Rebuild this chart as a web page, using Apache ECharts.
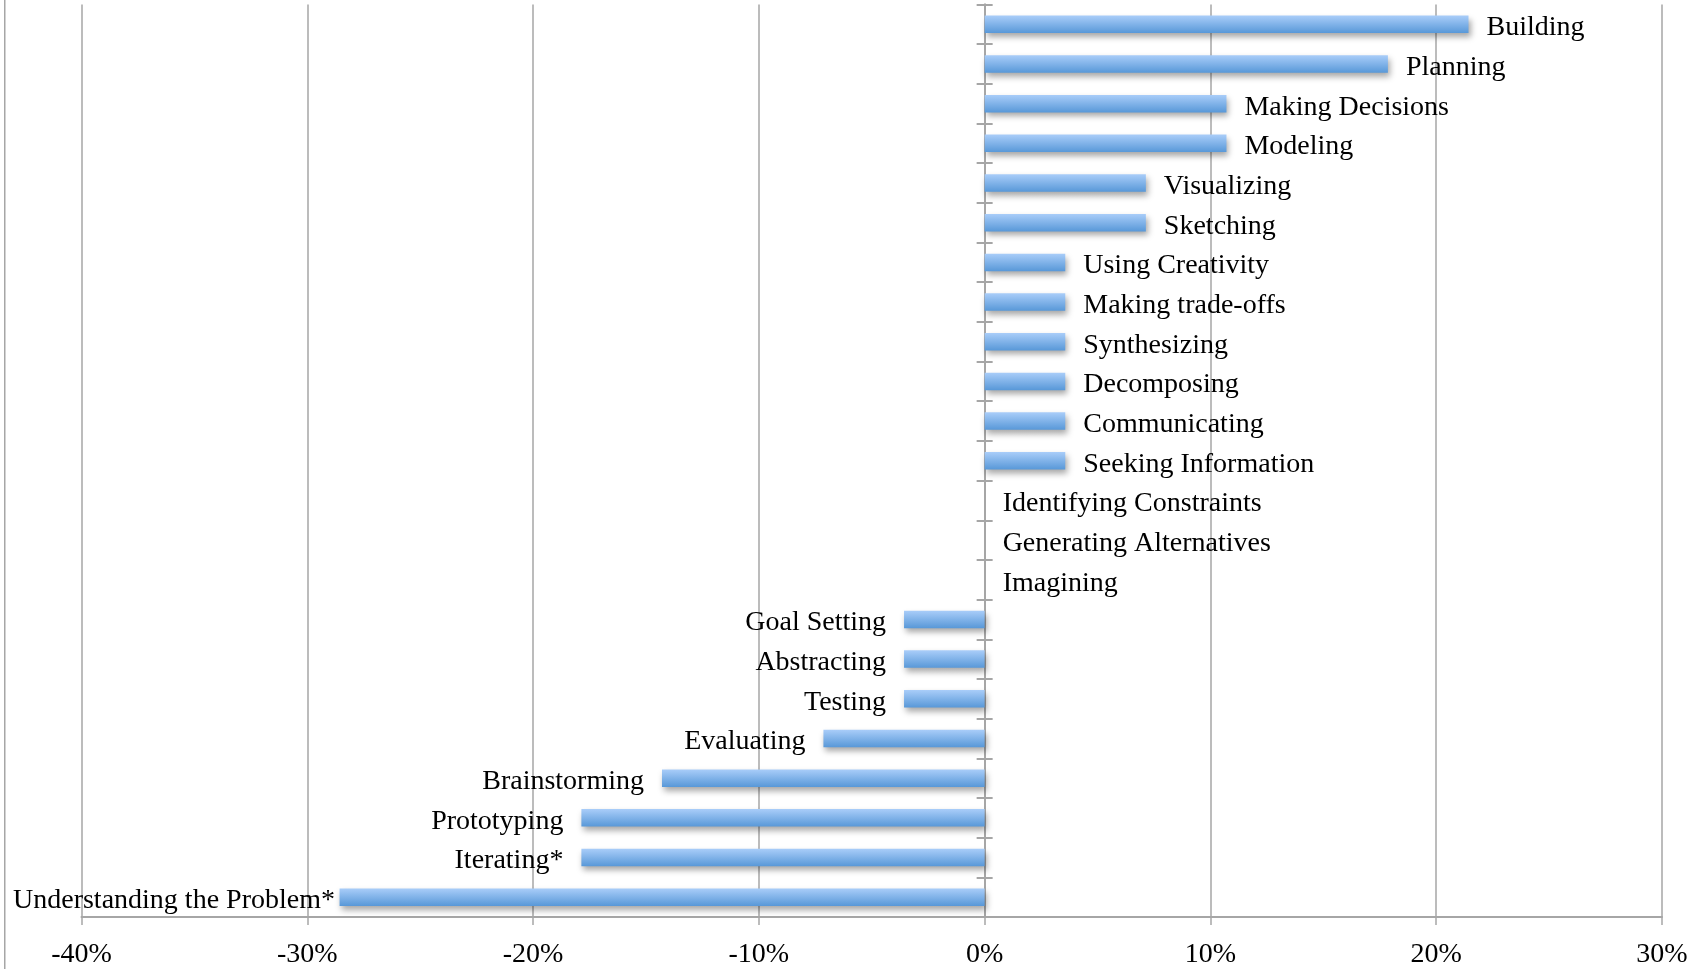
<!DOCTYPE html>
<html>
<head>
<meta charset="utf-8">
<script src="https://cdn.jsdelivr.net/npm/echarts@6/dist/echarts.min.js"></script>
<style>
html,body{margin:0;padding:0;background:#fff;}
#chart{width:1703px;height:969px;}
</style>
</head>
<body>
<div id="chart"></div>
<script>
// Categories listed top to bottom
var categories = [
  'Building','Planning','Making Decisions','Modeling','Visualizing','Sketching',
  'Using Creativity','Making trade-offs','Synthesizing','Decomposing','Communicating',
  'Seeking Information','Identifying Constraints','Generating Alternatives','Imagining',
  'Goal Setting','Abstracting','Testing','Evaluating','Brainstorming','Prototyping',
  'Iterating*','Understanding the Problem*'
];
// Change in share (fraction)
var values = [
  0.2143, 0.1786, 0.1071, 0.1071, 0.0714, 0.0714,
  0.0357, 0.0357, 0.0357, 0.0357, 0.0357,
  0.0357, 0, 0, 0,
  -0.0357, -0.0357, -0.0357, -0.0714, -0.1429, -0.1786,
  -0.1786, -0.2857
];
var xTicks = [-0.4, -0.3, -0.2, -0.1, 0, 0.1, 0.2, 0.3];

var FONT = '"Liberation Serif", "Times New Roman", serif';
var chart = echarts.init(document.getElementById('chart'));

var data = values.map(function (v) {
  return { value: v, label: { position: v < 0 ? 'left' : 'right' } };
});

var LEFT_LIMIT = 13;
var LABEL_DY = 3.5;

var option = {
  animation: false,
  backgroundColor: '#ffffff',
  grid: { left: 81.5, right: 41, top: 4.5, bottom: 52, containLabel: false },
  xAxis: [{
    type: 'value',
    min: xTicks[0],
    max: xTicks[xTicks.length - 1],
    interval: 0.1,
    position: 'bottom',
    axisLine: { show: true, onZero: false, lineStyle: { color: '#a6a6a6', width: 2 } },
    axisTick: { show: true, length: 8, lineStyle: { color: '#a6a6a6', width: 1.5 } },
    splitLine: { show: true, lineStyle: { color: '#a6a6a6', width: 1.5 } },
    axisLabel: {
      margin: 24,
      color: '#000',
      fontFamily: FONT,
      fontSize: 28,
      formatter: function (v) { return Math.round(v * 100) + '%'; }
    }
  }, {
    type: 'value',
    show: false,
    min: xTicks[0],
    max: xTicks[xTicks.length - 1],
    interval: 0.1,
    axisLine: { onZero: false }
  }],
  yAxis: [{
    type: 'category',
    data: categories,
    inverse: true,
    position: 'left',
    axisLine: { show: true, onZero: true, onZeroAxisIndex: 0, lineStyle: { color: '#a6a6a6', width: 2 } },
    axisTick: { show: true, length: 8, lineStyle: { color: '#a6a6a6', width: 2 } },
    axisLabel: { show: false },
    splitLine: { show: false }
  }, {
    type: 'category',
    data: categories,
    inverse: true,
    position: 'right',
    axisLine: { show: true, onZero: true, onZeroAxisIndex: 1, lineStyle: { color: '#a6a6a6', width: 2 } },
    axisTick: { show: true, length: 8, lineStyle: { color: '#a6a6a6', width: 2 } },
    axisLabel: { show: false },
    splitLine: { show: false }
  }],
  graphic: [{
    type: 'rect',
    shape: { x: 4, y: 0, width: 1.5, height: 969 },
    style: { fill: '#a6a6a6' },
    silent: true
  }],
  series: [{
    type: 'bar',
    xAxisIndex: 0,
    yAxisIndex: 0,
    data: data,
    barWidth: 17.5,
    itemStyle: {
      color: new echarts.graphic.LinearGradient(0, 0, 0, 1, [
        { offset: 0, color: '#a9cdf9' },
        { offset: 1, color: '#5898d8' }
      ]),
      shadowColor: 'rgba(0,0,0,0.35)',
      shadowBlur: 6,
      shadowOffsetX: 2,
      shadowOffsetY: 4
    },
    label: {
      show: true,
      distance: 18,
      color: '#000',
      fontFamily: FONT,
      fontSize: 28,
      formatter: function (p) { return p.name; }
    },
    labelLayout: function (params) {
      var dx = 0;
      if (params.labelRect.x < LEFT_LIMIT) {
        dx = LEFT_LIMIT - params.labelRect.x;
      }
      return { dx: dx, dy: LABEL_DY };
    }
  }]
};
chart.setOption(option);
</script>
</body>
</html>
